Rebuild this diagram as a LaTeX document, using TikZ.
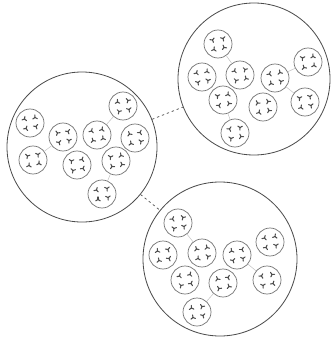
\documentclass[tikz,border=0pt]{standalone}
\usepackage{tikz}
\tikzset{
  colony/.style={draw=black!70, line width=0.7pt, circle, inner sep=0pt, minimum size=#1},
  cell/.style={draw=black!55, line width=0.6pt, circle, inner sep=0pt, minimum size=0.84cm},
  spot/.style={draw=black!70, line width=0.9pt, line cap=round},
  bond/.style={draw=black!25, line width=0.4pt},
  trio/.pic={\foreach \a in {90,210,330} \draw[spot] (0,0) -- (\a:2.6);}
}
% one small cell with four spots inside
\newcommand{\cellat}[3]{%
  \node[cell] (#1) at (#2,#3) {};
  \pic[rotate={#2*13+#3*7}] at (#2-5.5,#3-4) {trio};
  \pic[rotate={#2*5+#3*11}] at (#2+5,#3-5.5) {trio};
  \pic[rotate={#2*9+#3*3}] at (#2-4,#3+5.5) {trio};
  \pic[rotate={#2*3+#3*17}] at (#2+6,#3+3.5) {trio};
}
\begin{document}
\begin{tikzpicture}[x=0.03cm, y=-0.03cm]
    \useasboundingbox (0,0) rectangle (330,339);

    \node[colony=4.5cm] (colonyL) at (82,147) {};
    \node[colony=4.56cm] (colonyU) at (254,79) {};
    \node[colony=4.62cm] (colonyD) at (220,259) {};

    \draw[black!70, line width=0.6pt, dash pattern=on 2pt off 2.5pt] (colonyL) -- (colonyU);
    \draw[black!70, line width=0.6pt, dash pattern=on 2pt off 2.5pt] (colonyL) -- (colonyD);

    \foreach \n/\x/\y in {1/30/123, 2/63/137, 3/97/135, 4/123/106, 5/135/138,
                          6/33/160, 7/77/165, 8/116/161, 9/102/194}
      {\cellat{L\n}{\x}{\y}}
    \foreach \n/\x/\y in {1/218/44, 2/202/77, 3/240/75, 4/275/78, 5/308/62,
                          6/223/100, 7/263/107, 8/305/102, 9/235/133}
      {\cellat{U\n}{\x}{\y}}
    \foreach \n/\x/\y in {1/178/223, 2/163/255, 3/202/253, 4/237/255, 5/270/242,
                          6/185/280, 7/223/283, 8/267/280, 9/197/312}
      {\cellat{D\n}{\x}{\y}}

    \draw[bond] (L2) -- (L6);
    \draw[bond] (L3) -- (L4);
    \draw[bond] (L8) -- (L9);
    \draw[bond] (U1) -- (U3);
    \draw[bond] (U4) -- (U5);
    \draw[bond] (U4) -- (U8);
    \draw[bond] (U6) -- (U9);
    \draw[bond] (D1) -- (D3);
    \draw[bond] (D4) -- (D8);
    \draw[bond] (D7) -- (D9);

\end{tikzpicture}
\end{document}
